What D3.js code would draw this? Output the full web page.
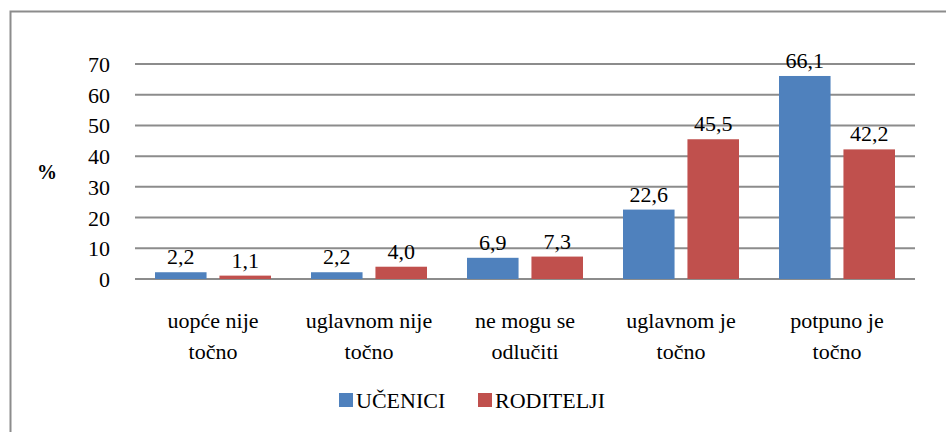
<!DOCTYPE html>
<html>
<head>
<meta charset="utf-8">
<script src="https://cdn.jsdelivr.net/npm/d3@7"></script>
<style>
  body { margin: 0; background: #fff; }
  text, tspan { font-family: "Times New Roman", "Liberation Serif", Tinos, serif; }
</style>
</head>
<body>
<div id="chart"></div>
<script>
var categories = [['uopće nije', 'točno'], ['uglavnom nije', 'točno'], ['ne mogu se', 'odlučiti'], ['uglavnom je', 'točno'], ['potpuno je', 'točno']];
var seriesNames = ['UČENICI', 'RODITELJI'];
var ucenici = [2.2, 2.2, 6.9, 22.6, 66.1];
var roditelji = [1.1, 4.0, 7.3, 45.5, 42.2];
var yTicks = [0, 10, 20, 30, 40, 50, 60, 70];
var colors = ['#4f81bd', '#c0504d'];

var FONT = '"Times New Roman", "Liberation Serif", Tinos, serif';

var svg = d3.select('#chart').append('svg')
  .attr('width', 946)
  .attr('height', 432)
  .attr('font-family', FONT);

// outer frame (right and bottom edges fall outside the picture)
svg.append('rect')
  .attr('x', 10.5).attr('y', 11.5)
  .attr('width', 960).attr('height', 460)
  .attr('fill', 'none')
  .attr('stroke', '#8c8c8c')
  .attr('stroke-width', 2);

var x0 = d3.scaleBand()
  .domain(d3.range(categories.length))
  .range([135, 915]);

var x1 = d3.scaleBand()
  .domain([0, 1])
  .range([20, x0.bandwidth() - 20])
  .paddingInner(0.2);

var y = d3.scaleLinear()
  .domain([0, 70])
  .range([279, 64]);

// gridlines
svg.append('g')
  .selectAll('line')
  .data(yTicks)
  .enter()
  .append('line')
  .attr('x1', 135).attr('x2', 915)
  .attr('y1', (d) => y(d)).attr('y2', (d) => y(d))
  .attr('stroke', '#8c8c8c')
  .attr('stroke-width', 2);

// y tick labels
svg.append('g')
  .selectAll('text')
  .data(yTicks)
  .enter()
  .append('text')
  .style('font-family', FONT)
  .attr('x', 110)
  .attr('y', (d) => y(d) + 8)
  .attr('text-anchor', 'end')
  .attr('font-size', 22)
  .text((d) => d);

svg.append('text')
  .style('font-family', FONT)
  .attr('x', 47).attr('y', 179)
  .attr('text-anchor', 'middle')
  .attr('font-size', 20)
  .attr('font-weight', 'bold')
  .text('%');

var fmt = (v) => v.toFixed(1).replace('.', ',');

[ucenici, roditelji].forEach((vals, s) => {
  var g = svg.append('g');
  g.selectAll('rect')
    .data(vals)
    .enter()
    .append('rect')
    .attr('x', (d, i) => x0(i) + x1(s))
    .attr('y', (d) => y(d))
    .attr('width', x1.bandwidth())
    .attr('height', (d) => y(0) - y(d))
    .attr('fill', colors[s]);
  g.selectAll('text')
    .data(vals)
    .enter()
    .append('text')
    .style('font-family', FONT)
    .attr('x', (d, i) => x0(i) + x1(s) + x1.bandwidth() / 2)
    .attr('y', (d) => y(d) - 8)
    .attr('text-anchor', 'middle')
    .attr('font-size', 22)
    .text((d) => fmt(d));
});

// category labels
var cat = svg.append('g')
  .selectAll('text')
  .data(categories)
  .enter()
  .append('text')
  .style('font-family', FONT)
  .attr('text-anchor', 'middle')
  .attr('font-size', 22);
cat.each(function (lines, i) {
  d3.select(this).selectAll('tspan')
    .data(lines)
    .enter()
    .append('tspan')
    .attr('x', x0(i) + x0.bandwidth() / 2)
    .attr('y', (d, j) => 328 + j * 31)
    .text((d) => d);
});

// legend
var legend = svg.append('g');
var lx = [339, 478];
seriesNames.forEach((name, s) => {
  legend.append('rect')
    .attr('x', lx[s]).attr('y', 393)
    .attr('width', 14).attr('height', 14)
    .attr('fill', colors[s]);
  legend.append('text')
    .style('font-family', FONT)
    .attr('x', lx[s] + 17).attr('y', 408)
    .attr('font-size', 22)
    .text(name);
});
</script>
</body>
</html>
